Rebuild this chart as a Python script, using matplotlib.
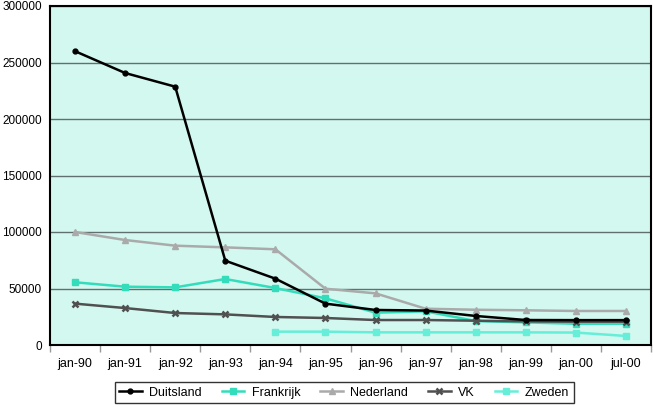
import numpy as np
from matplotlib import pyplot as plt

plt.rcParams['font.family'] = ['Liberation Sans', 'DejaVu Sans']

labels = ["jan-90", "jan-91", "jan-92", "jan-93", "jan-94", "jan-95",
          "jan-96", "jan-97", "jan-98", "jan-99", "jan-00", "jul-00"]

duitsland = [260000, 240700, 228600, 74600, 58700, 36600,
             31000, 30500, 25700, 22100, 22000, 22000]
frankrijk = [55500, 51600, 51000, 58400, 50400, 41300,
             28600, 29800, 21200, 20000, 18800, 18800]
nederland = [100000, 92900, 87900, 86400, 84700, 49800,
             45700, 32100, 31200, 30700, 30100, 30100]
vk = [36600, 32700, 28300, 27100, 24800, 23900,
      22100, 22100, 21500, 20900, 20600, 20600]
zweden = [None, None, None, None, 11800, 11800,
          11200, 11200, 11200, 11200, 11000, 8000]

x = np.arange(len(labels))

fig = plt.figure(figsize=(6.53, 4.07), dpi=100)
ax = fig.add_axes([50 / 653, 1 - 345 / 407, 601 / 653, 339 / 407])
ax.set_facecolor("#D2F8F0")

zw = np.array([np.nan if v is None else v for v in zweden], dtype=float)

ax.plot(x, frankrijk, color="#33DDBB", marker="s", ms=4.5, lw=1.8, label="Frankrijk", zorder=3)
ax.plot(x, nederland, color="#AAAAAA", marker="^", ms=4.5, lw=1.8, label="Nederland", zorder=3)
ax.plot(x, vk, color="#505050", marker="x", ms=4.5, mew=1.8, lw=1.8, label="VK", zorder=3)
ax.plot(x, zw, color="#66EED8", marker="s", ms=4.5, lw=1.8, label="Zweden", zorder=3)
ax.plot(x, duitsland, color="black", marker="o", ms=3.5, lw=1.8, label="Duitsland", zorder=4)

ax.set_xlim(-0.5, len(labels) - 0.5)
ax.set_ylim(0, 300000)
ax.set_yticks(np.arange(0, 300001, 50000))
ax.yaxis.grid(True, color="#607070", lw=1)
ax.set_axisbelow(True)
ax.tick_params(axis="y", length=0, labelsize=8.5, pad=6)

ax.set_xticks(x)
ax.set_xticklabels(labels)
ax.set_xticks(np.arange(-0.5, len(labels), 1), minor=True)
ax.tick_params(axis="x", which="major", length=0, labelsize=9, pad=9)
ax.tick_params(axis="x", which="minor", length=5, color="#999999", width=1)

for s in ax.spines.values():
    s.set_color("black")
    s.set_linewidth(1.5)

h, l = ax.get_legend_handles_labels()
order = [4, 0, 1, 2, 3]
leg = fig.legend([h[i] for i in order], [l[i] for i in order], loc="lower center",
                 bbox_to_anchor=(0.527, -0.006), ncol=5, fontsize=9, frameon=True,
                 fancybox=False, edgecolor="black", handlelength=1.8,
                 columnspacing=1.6, borderpad=0.35, handletextpad=0.6)
leg.get_frame().set_linewidth(1)

plt.savefig("out.png", dpi=100)
